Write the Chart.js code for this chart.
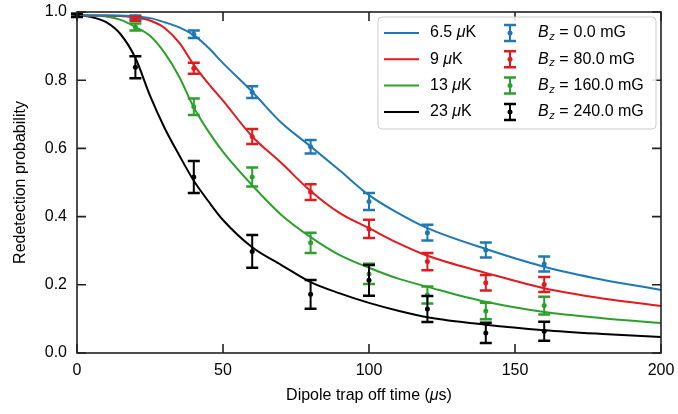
<!DOCTYPE html>
<html>
<head>
<meta charset="utf-8">
<script src="https://cdn.jsdelivr.net/npm/chart.js@4.4.1/dist/chart.umd.min.js"></script>
<style>
    body { margin: 0; background: #fff; }
    #contenedor { width: 678px; height: 414px; }
</style>
</head>
<body>
<div id="contenedor"><canvas id="grafico" width="678" height="414"></canvas></div>
<script>
// Tiempos de medida (µs) y probabilidades medidas con su error
const tiempos = [0, 20, 40, 60, 80, 100, 120, 140, 160];
const medidaBz0 = [0.99, 0.985, 0.935, 0.765, 0.605, 0.444, 0.353, 0.302, 0.261];
const errorBz0 = [0.004, 0.005, 0.011, 0.017, 0.02, 0.025, 0.023, 0.022, 0.022];
const medidaBz80 = [0.99, 0.98, 0.835, 0.635, 0.472, 0.364, 0.268, 0.206, 0.201];
const errorBz80 = [0.004, 0.006, 0.016, 0.022, 0.023, 0.027, 0.025, 0.023, 0.022];
const medidaBz160 = [0.99, 0.956, 0.722, 0.516, 0.323, 0.232, 0.17, 0.123, 0.139];
const errorBz160 = [0.004, 0.01, 0.024, 0.028, 0.03, 0.03, 0.025, 0.024, 0.026];
const medidaBz240 = [0.99, 0.838, 0.516, 0.298, 0.172, 0.213, 0.129, 0.059, 0.064];
const errorBz240 = [0.005, 0.032, 0.047, 0.048, 0.042, 0.045, 0.038, 0.03, 0.028];

// Curvas simuladas para cada temperatura
const tiemposCurva = [0, 5, 10, 15, 20, 25, 30, 35, 40, 45, 50, 60, 70, 80, 90, 100, 110, 120, 140, 160, 180, 200];
const curva6_5 = [0.99, 0.99, 0.99, 0.99, 0.987, 0.982, 0.97, 0.955, 0.932, 0.895, 0.85, 0.766, 0.675, 0.606, 0.535, 0.463, 0.41, 0.366, 0.305, 0.253, 0.215, 0.185];
const curva9 = [0.99, 0.99, 0.99, 0.988, 0.984, 0.975, 0.953, 0.91, 0.845, 0.79, 0.74, 0.635, 0.557, 0.475, 0.41, 0.366, 0.322, 0.285, 0.235, 0.19, 0.16, 0.138];
const curva13 = [0.99, 0.99, 0.987, 0.977, 0.956, 0.93, 0.88, 0.81, 0.72, 0.65, 0.59, 0.492, 0.405, 0.34, 0.287, 0.25, 0.218, 0.194, 0.15, 0.12, 0.102, 0.088];
const curva23 = [0.99, 0.985, 0.97, 0.934, 0.865, 0.755, 0.66, 0.58, 0.505, 0.445, 0.39, 0.31, 0.258, 0.208, 0.175, 0.147, 0.124, 0.105, 0.083, 0.067, 0.056, 0.047];

// Etiquetas
const temperaturas = ['6.5', '9', '13', '23'];
const campos = ['0.0', '80.0', '160.0', '240.0'];
const ticksX = [0, 50, 100, 150, 200];
const ticksY = [0, 0.2, 0.4, 0.6, 0.8, 1.0];

const colores = ['#1f77b4', '#e3191c', '#2ca02c', '#000000'];
const fuente = "'Liberation Sans', Arial, Helvetica, sans-serif";

const curvas = [curva6_5, curva9, curva13, curva23];
const medidas = [medidaBz0, medidaBz80, medidaBz160, medidaBz240];
const errores = [errorBz0, errorBz80, errorBz160, errorBz240];

const datasets = [];
curvas.forEach(function (c, i) {
    datasets.push({
        label: temperaturas[i] + ' μK',
        data: tiemposCurva.map((t, k) => ({ x: t, y: c[k] })),
        borderColor: colores[i],
        borderWidth: 2,
        pointRadius: 0,
        cubicInterpolationMode: 'monotone',
        fill: false,
        order: 10,
        clip: false
    });
});
medidas.forEach(function (m, i) {
    datasets.push({
        label: 'Bz = ' + campos[i] + ' mG',
        data: tiempos.map((t, k) => ({ x: t, y: m[k] })),
        errores: errores[i],
        showLine: false,
        borderColor: colores[i],
        backgroundColor: colores[i],
        pointRadius: 2.5,
        pointBorderWidth: 0,
        order: 4 - i,
        clip: false
    });
});

// Barras de error, dibujadas con las escalas del gráfico
const barrasError = {
    id: 'barrasError',
    afterDatasetDraw(chart, args) {
        const ds = chart.data.datasets[args.index];
        if (!ds.errores) return;
        const ctx = chart.ctx, sx = chart.scales.x, sy = chart.scales.y;
        ctx.save();
        ctx.strokeStyle = ds.borderColor;
        ctx.lineWidth = 2;
        ds.data.forEach(function (p, k) {
            const px = sx.getPixelForValue(p.x);
            const y1 = sy.getPixelForValue(p.y - ds.errores[k]);
            const y2 = sy.getPixelForValue(p.y + ds.errores[k]);
            ctx.beginPath();
            ctx.moveTo(px, y1); ctx.lineTo(px, y2);
            ctx.stroke();
            ctx.lineWidth = 2.5;
            ctx.beginPath();
            ctx.moveTo(px - 6, y1); ctx.lineTo(px + 6, y1);
            ctx.moveTo(px - 6, y2); ctx.lineTo(px + 6, y2);
            ctx.stroke();
            ctx.lineWidth = 2;
        });
        ctx.restore();
    }
};

// Marco, marcas interiores, título del eje x y leyenda
const marcoYLeyenda = {
    id: 'marcoYLeyenda',
    afterDraw(chart) {
        const ctx = chart.ctx, a = chart.chartArea;
        const sx = chart.scales.x, sy = chart.scales.y;
        ctx.save();
        ctx.strokeStyle = '#222';
        ctx.lineWidth = 1.6;
        ctx.strokeRect(a.left, a.top, a.right - a.left, a.bottom - a.top);
        ctx.beginPath();
        ticksX.forEach(function (v) {
            const px = sx.getPixelForValue(v);
            ctx.moveTo(px, a.bottom); ctx.lineTo(px, a.bottom - 9);
            ctx.moveTo(px, a.top); ctx.lineTo(px, a.top + 9);
        });
        ticksY.forEach(function (v) {
            const py = sy.getPixelForValue(v);
            ctx.moveTo(a.left, py); ctx.lineTo(a.left + 9, py);
            ctx.moveTo(a.right, py); ctx.lineTo(a.right - 9, py);
        });
        ctx.stroke();

        // título eje x con µ en cursiva
        ctx.fillStyle = '#000';
        ctx.textBaseline = 'middle';
        ctx.textAlign = 'left';
        const normal = '16px ' + fuente, cursiva = 'italic 16px ' + fuente;
        const partes = [['Dipole trap off time (', normal], ['μ', cursiva], ['s)', normal]];
        let ancho = 0;
        partes.forEach(function (p) { ctx.font = p[1]; ancho += ctx.measureText(p[0]).width; });
        let tx = (a.left + a.right) / 2 - ancho / 2;
        partes.forEach(function (p) {
            ctx.font = p[1];
            ctx.fillText(p[0], tx, 396);
            tx += ctx.measureText(p[0]).width;
        });

        // leyenda
        const lx = 378, ly = 17, lw = 278, lh = 112;
        ctx.beginPath();
        ctx.roundRect(lx, ly, lw, lh, 4);
        ctx.fillStyle = 'rgba(255,255,255,0.85)';
        ctx.fill();
        ctx.strokeStyle = '#cccccc';
        ctx.lineWidth = 1;
        ctx.stroke();
        for (let i = 0; i < 4; i++) {
            const fy = 33 + i * 26.3;
            ctx.strokeStyle = colores[i];
            ctx.lineWidth = 2;
            ctx.beginPath();
            ctx.moveTo(384, fy); ctx.lineTo(419, fy);
            ctx.stroke();
            ctx.fillStyle = '#000';
            ctx.font = normal;
            let x = 430;
            ctx.fillText(temperaturas[i] + ' ', x, fy);
            x += ctx.measureText(temperaturas[i] + ' ').width;
            ctx.font = cursiva;
            ctx.fillText('μ', x, fy);
            x += ctx.measureText('μ').width;
            ctx.font = normal;
            ctx.fillText('K', x, fy);

            // icono de barra de error
            ctx.strokeStyle = colores[i];
            ctx.fillStyle = colores[i];
            ctx.lineWidth = 2;
            ctx.beginPath();
            ctx.moveTo(510, fy - 8); ctx.lineTo(510, fy + 8);
            ctx.stroke();
            ctx.lineWidth = 2.5;
            ctx.beginPath();
            ctx.moveTo(504, fy - 8); ctx.lineTo(516, fy - 8);
            ctx.moveTo(504, fy + 8); ctx.lineTo(516, fy + 8);
            ctx.stroke();
            ctx.beginPath();
            ctx.arc(510, fy, 2.5, 0, Math.PI * 2);
            ctx.fill();

            // B_z = ... mG
            ctx.fillStyle = '#000';
            x = 538;
            ctx.font = cursiva;
            ctx.fillText('B', x, fy);
            x += ctx.measureText('B').width;
            ctx.font = 'italic 11px ' + fuente;
            ctx.fillText('z', x + 0.5, fy + 4);
            x += ctx.measureText('z').width + 5;
            ctx.font = normal;
            ctx.fillText('=', x, fy);
            x += ctx.measureText('=').width + 5;
            ctx.fillText(campos[i] + ' mG', x, fy);
        }
        ctx.restore();
    }
};

Chart.defaults.font.family = fuente;
Chart.defaults.font.size = 16;
Chart.defaults.color = '#000';

const grafico = new Chart(document.getElementById('grafico').getContext('2d'), {
    type: 'line',
    data: { datasets: datasets },
    options: {
        responsive: false,
        animation: false,
        layout: { padding: { left: 0, top: 12, right: 17, bottom: 0 } },
        plugins: { legend: { display: false }, tooltip: { enabled: false } },
        scales: {
            x: {
                type: 'linear',
                min: 0,
                max: 200,
                grid: { display: false, drawTicks: false },
                border: { display: false },
                afterBuildTicks: function (s) { s.ticks = ticksX.map(v => ({ value: v })); },
                afterFit: function (s) {
                    s.height = 61;
                    s.paddingLeft = 0;
                    s.paddingRight = 0;
                },
                ticks: { padding: 8, maxRotation: 0, callback: v => String(v) }
            },
            y: {
                min: 0,
                max: 1,
                grid: { display: false, drawTicks: false },
                border: { display: false },
                afterBuildTicks: function (s) { s.ticks = ticksY.map(v => ({ value: v })); },
                afterFit: function (s) {
                    s.width = 77;
                    s.paddingTop = 0;
                    s.paddingBottom = 0;
                },
                ticks: { padding: 10, callback: v => Number(v).toFixed(1) },
                title: { display: true, text: 'Redetection probability', font: { size: 16 }, padding: { top: 11, bottom: 0 } }
            }
        }
    },
    plugins: [barrasError, marcoYLeyenda]
});
</script>
</body>
</html>
